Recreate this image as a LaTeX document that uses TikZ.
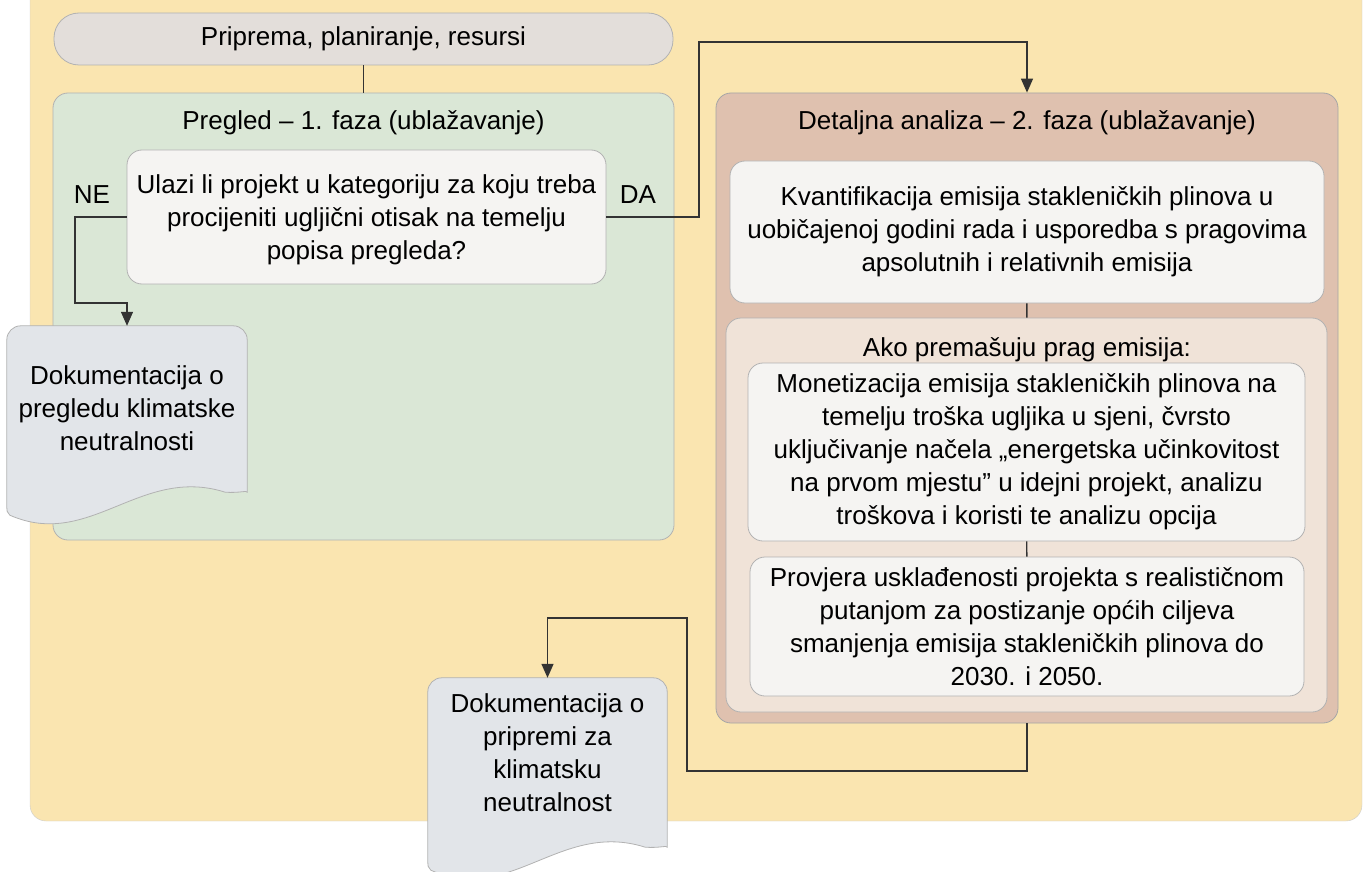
\documentclass[tikz,border=0pt]{standalone}
\usepackage{fontspec}
\setmainfont{Liberation Sans}
\usetikzlibrary{arrows.meta,calc}

\definecolor{outerbg}{HTML}{FAE5B0}
\definecolor{prepfill}{HTML}{E3DEDA}
\definecolor{fazaone}{HTML}{DAE7D6}
\definecolor{fazatwo}{HTML}{DFC1AF}
\definecolor{akofill}{HTML}{F0E3D8}
\definecolor{stepfill}{HTML}{F5F4F2}
\definecolor{docfill}{HTML}{E2E5E9}
\definecolor{lineclr}{HTML}{333333}

\tikzset{
  box/.style={draw=black!30, line width=0.8pt, rounded corners=15pt, align=center, inner sep=0pt},
  stepbox/.style={box, fill=stepfill},
  docbox/.style={minimum width=#1, inner sep=0pt},
  conn/.style={draw=lineclr, line width=1.4pt},
}

% document shape drawn under an empty node
\newcommand{\docshape}[1]{%
  \filldraw[fill=docfill, draw=black!30, line width=0.8pt]
    ($(#1.south west)+(0,12)$) [rounded corners=14pt] -- (#1.north west) -- (#1.north east)
    -- ($(#1.south east)+(0,-12)$) [sharp corners]
    .. controls ($(#1.south east)+(0,0)$) and ($(#1.south east)+(-8,3)$) .. ($(#1.south east)+(-22,2)$)
    .. controls ($(#1.south east)+(-107,-25)$) and ($(#1.south west)+(83,60)$) .. ($(#1.south west)+(3,25)$)
    .. controls ($(#1.south west)+(0,22)$) .. ($(#1.south west)+(0,12)$) -- cycle;}

\begin{document}
\begin{tikzpicture}[x=1pt,y=-1pt,>={Triangle[length=14pt,width=12pt]},font=\fontsize{26}{33}\selectfont]
  \useasboundingbox (0,0) rectangle (1363,872);
  \filldraw[fill=outerbg, draw=black!20, rounded corners=16pt] (30,-30) rectangle (1362,821);

  % phase 1
  \node[box, fill=prepfill, minimum width=619, minimum height=52, rounded corners=25pt] (prep) at (363.5,39) {Priprema, planiranje, resursi};
  \node[box, fill=fazaone, minimum width=621, minimum height=447] (faza1) at (363.5,316.5) {};
  \node (faza1title) at (363.5,123) {Pregled – 1. faza (ublažavanje)};
  \node[stepbox, minimum width=479, minimum height=134] (question) at (366.5,217) {};
  \node[align=center] (questiontxt) at (366.5,220) {Ulazi li projekt u kategoriju za koju treba\\procijeniti ugljični otisak na temelju\\popisa pregleda?};
  \node (ne) at (92,195) {NE};
  \node (da) at (638,195) {DA};

  % phase 2
  \node[box, fill=fazatwo, draw=black!35, minimum width=622, minimum height=630] (faza2) at (1027,408) {};
  \node (faza2title) at (1027,123) {Detaljna analiza – 2. faza (ublažavanje)};
  \node[stepbox, minimum width=594, minimum height=142] (quant) at (1027,232) {Kvantifikacija emisija stakleničkih plinova u\\uobičajenoj godini rada i usporedba s pragovima\\apsolutnih i relativnih emisija};
  \node[box, fill=akofill, minimum width=601, minimum height=394] (ako) at (1026.5,515) {};
  \node (akotitle) at (1027,350) {Ako premašuju prag emisija:};
  \node[stepbox, minimum width=557, minimum height=178] (monet) at (1026.5,452) {Monetizacija emisija stakleničkih plinova na\\temelju troška ugljika u sjeni, čvrsto\\uključivanje načela „energetska učinkovitost\\na prvom mjestu” u idejni projekt, analizu\\troškova i koristi te analizu opcija};
  \node[stepbox, minimum width=554, minimum height=139] (provjera) at (1027,626.5) {Provjera usklađenosti projekta s realističnom\\putanjom za postizanje općih ciljeva\\smanjenja emisija stakleničkih plinova do\\2030. i 2050.};

  % documents
  \node[docbox=240, minimum height=164] (doc1) at (127,408) {};
  \docshape{doc1}
  \node[align=center] (doc1txt) at (doc1) {Dokumentacija o\\pregledu klimatske\\neutralnosti};
  \node[docbox=239, minimum height=167] (doc2) at (547.5,761.5) {};
  \docshape{doc2}
  \node[align=center] (doc2txt) at ($(doc2)+(0,-9)$) {Dokumentacija o\\pripremi za\\klimatsku\\neutralnost};

  % connectors
  \coordinate (nebend) at (75,303);
  \coordinate (dabend) at (699,42);
  \coordinate (backbend) at (687,771);
  \draw[conn] (prep) -- (faza1);
  \draw[conn,->] (question.west) -| (nebend) -| (doc1.north);
  \draw[conn,->] (question.east) -| (dabend) -| (faza2.north);
  \draw[conn] (quant) -- (ako);
  \draw[conn] (monet) -- (provjera);
  \draw[conn,->] (faza2.south) |- (backbend) |- ($(doc2.north)+(0,-60)$) -- (doc2.north);
\end{tikzpicture}
\end{document}
